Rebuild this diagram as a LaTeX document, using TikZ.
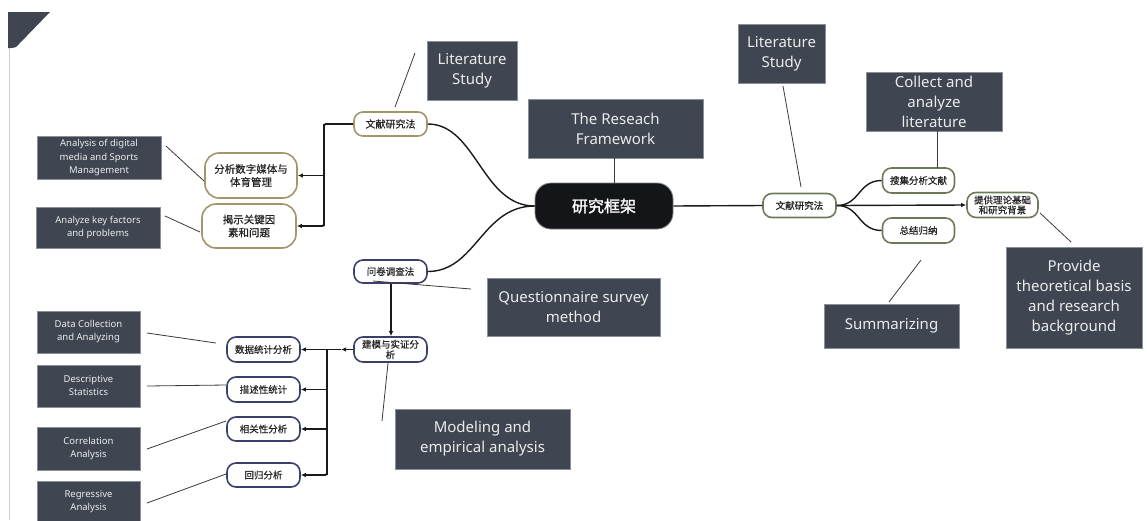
\documentclass[tikz,border=0pt]{standalone}
\usepackage{fontspec}
\setmainfont{Noto Sans}
\newfontfamily\cjk[FakeBold=0.6]{Noto Sans CJK SC}
\newfontfamily\cjkc[FakeBold=1.6]{Noto Sans CJK SC}
\usetikzlibrary{arrows.meta}
\definecolor{boxc}{HTML}{3F4652}
\definecolor{boxb}{HTML}{8A9099}
\definecolor{goldc}{HTML}{A3966B}
\definecolor{navyc}{HTML}{3B3F6B}
\definecolor{olivec}{HTML}{6C7B57}
\definecolor{linec}{HTML}{1A1A1A}
\definecolor{leadc}{HTML}{3A3A3A}
\definecolor{centc}{HTML}{131519}
\tikzset{
  dbox/.style={fill=boxc, draw=boxb, line width=0.6pt, text=white!92!black, align=center, inner sep=0pt, font=\fontsize{15}{20}\selectfont},
  sbox/.style={dbox, font=\fontsize{9.5}{13}\selectfont},
  rn/.style={rounded corners=9pt, fill=white, line width=1.6pt, align=center, inner sep=0pt, text=black!85, font=\cjk\fontsize{9.5}{10.5}\selectfont},
  goldn/.style={rn, draw=goldc},
  navyn/.style={rn, draw=navyc},
  oliven/.style={rn, draw=olivec},
  bign/.style={rounded corners=14pt, font=\cjk\fontsize{10.5}{13}\selectfont},
  conn/.style={line width=1.4pt, draw=linec},
  bus/.style={line width=1.8pt, draw=linec, rounded corners=2pt},
  lead/.style={line width=0.8pt, draw=leadc},
  tip/.style={-{Latex[length=5pt,width=4.5pt]}},
}
\begin{document}
\begin{tikzpicture}[x=1pt,y=-1pt]
\useasboundingbox (0,0) rectangle (1147,520);
\fill[white] (0,0) rectangle (1147,520);
% frame decoration
\draw[line width=1.2pt, draw=black!18] (9.5,48) -- (9.5,520);
\fill[boxc] (8,12) -- (50,12) -- (19,44) .. controls (16,47.5) .. (11,48) -- (8,48) -- cycle;

% ---- dark label boxes ----
\node[dbox, minimum width=90, minimum height=59] (litL) at (472,70.5) {Literature\\Study};
\node[dbox, minimum width=175, minimum height=59] (frame) at (615.5,128.5) {The Reseach\\Framework};
\node[dbox, minimum width=87, minimum height=59] (litR) at (781.5,53.5) {Literature\\Study};
\node[dbox, minimum width=136, minimum height=59] (collect) at (934,101.5) {Collect and\\analyze\\literature};
\node[dbox, minimum width=136, minimum height=101] (provide) at (1074,297.5) {Provide\\theoretical basis\\and research\\background};
\node[dbox, minimum width=135, minimum height=44] (summ) at (891.5,326) {Summarizing};
\node[dbox, minimum width=173, minimum height=58] (quest) at (573.5,307) {Questionnaire survey\\method};
\node[dbox, minimum width=175, minimum height=60] (model) at (482.5,439) {Modeling and\\empirical analysis};
\node[sbox, minimum width=124, minimum height=43] (anadig) at (99,157.5) {Analysis of digital\\media and Sports\\Management};
\node[sbox, minimum width=124, minimum height=41] (anakey) at (98,227.5) {Analyze key factors\\and problems};
\node[sbox, minimum width=103, minimum height=42] (datac) at (88.5,332) {Data Collection\\and Analyzing};
\node[sbox, minimum width=103, minimum height=42] (desc) at (88.5,386) {Descriptive\\Statistics};
\node[sbox, minimum width=103, minimum height=43] (corr) at (88.5,448.5) {Correlation\\Analysis};
\node[sbox, minimum width=103, minimum height=42] (regr) at (88.5,502) {Regressive\\Analysis};

% ---- mind map nodes ----
\node[rounded corners=16pt, fill=centc, draw=black!50, line width=0.8pt, text=white, font=\cjkc\fontsize{16}{18}\selectfont, minimum width=138, minimum height=46, inner sep=0pt] (center) at (604,206) {研究框架};
\node[goldn, minimum width=73, minimum height=24, font=\cjk\fontsize{10}{11}\selectfont] (wxL) at (390.5,124) {文献研究法};
\node[goldn, bign, minimum width=92, minimum height=45] (fenxi) at (251,175.5) {分析数字媒体与\\体育管理};
\node[goldn, bign, minimum width=94, minimum height=44] (jieshi) at (249,226) {揭示关键因\\素和问题};
\node[navyn, minimum width=73, minimum height=23] (wenjuan) at (390.5,271.5) {问卷调查法};
\node[navyn, minimum width=73, minimum height=25] (jianmo) at (390.5,349.5) {建模与实证分\\析};
\node[navyn, minimum width=73, minimum height=25] (shuju) at (263.5,349.5) {数据统计分析};
\node[navyn, minimum width=73, minimum height=25] (miaoshu) at (263.5,389.5) {描述性统计};
\node[navyn, minimum width=73, minimum height=24] (xiangguan) at (263.5,429) {相关性分析};
\node[navyn, minimum width=73, minimum height=24] (huigui) at (263.5,475) {回归分析};
\node[oliven, minimum width=73, minimum height=24] (wxR) at (799.5,205.5) {文献研究法};
\node[oliven, minimum width=72, minimum height=25] (souji) at (918.5,180.5) {搜集分析文献};
\node[oliven, minimum width=72, minimum height=25] (zongjie) at (918.5,230.5) {总结归纳};
\node[oliven, minimum width=71, minimum height=25, font=\cjk\fontsize{9.5}{10}\selectfont] (tigong) at (1002.5,205) {提供理论基础\\和研究背景};

% ---- connectors ----
\draw[conn] (center.west) .. controls (482,206) and (476,124) .. (wxL.east);
\draw[conn] (center.west) .. controls (482,206) and (476,271.5) .. (wenjuan.east);
\draw[conn] (center.east) -- (wxR.west);
\draw[conn] (wxR.east) .. controls (860,205.5) and (858,180.5) .. (souji.west);
\draw[conn] (wxR.east) .. controls (860,205.5) and (858,230.5) .. (zongjie.west);
\draw[conn, tip] (wxR.east) -- (tigong.west);

\coordinate (bLt) at (324,124);
\coordinate (bLa) at (324,175.5);
\coordinate (bLb) at (324,226);
\draw[bus] (wxL.west) -- (bLt) -- (bLb);
\draw[conn, tip] (bLa) -- (fenxi.east);
\draw[bus, tip] (bLt) -- (bLb) -- (jieshi.east);

\draw[conn, tip] (wenjuan.south -| 391,0) -- (jianmo.north -| 391,0);
\coordinate (jmA) at (341,349.5);
\coordinate (bQt) at (327,349.5);
\coordinate (bQ2) at (327,389.5);
\coordinate (bQ3) at (327,429);
\coordinate (bQb) at (327,475);
\draw[conn, tip] (jianmo.west) -- (jmA);
\draw[conn] (jmA) -- (bQt);
\draw[bus] (bQt) -- (bQb);
\draw[conn, tip] (bQt) -- (shuju.east);
\draw[conn, tip] (bQ2) -- (miaoshu.east);
\draw[conn, tip] (bQ3) -- (xiangguan.east);
\draw[bus, tip] (bQ3) -- (bQb) -- (huigui.east);

% ---- leader lines ----
\coordinate (lA1) at (395,107);  \coordinate (lA2) at (415,53);
\coordinate (lB1) at (166,146);  \coordinate (lB2) at (204,181);
\coordinate (lC1) at (165,216);  \coordinate (lC2) at (200,232);
\coordinate (lD1) at (614,158);  \coordinate (lD2) at (614,183);
\coordinate (lE1) at (801,187);  \coordinate (lE2) at (783,86);
\coordinate (lF1) at (937,131);  \coordinate (lF2) at (937,168);
\coordinate (lG1) at (921,260);  \coordinate (lG2) at (889,302);
\coordinate (lH1) at (1040,213); \coordinate (lH2) at (1071,242);
\coordinate (lI1) at (373,281);  \coordinate (lI2) at (471,289);
\coordinate (lJ1) at (388,363);  \coordinate (lJ2) at (382,421);
\coordinate (lK1) at (147,333);  \coordinate (lK2) at (216,343);
\coordinate (lL1) at (147,386);  \coordinate (lL2) at (226,385);
\coordinate (lM1) at (147,449);  \coordinate (lM2) at (226,421);
\coordinate (lN1) at (147,503);  \coordinate (lN2) at (226,474);
\foreach \a in {A,B,C,D,E,F,G,H,I,J,K,L,M,N}{\draw[lead] (l\a1) -- (l\a2);}
\end{tikzpicture}
\end{document}
